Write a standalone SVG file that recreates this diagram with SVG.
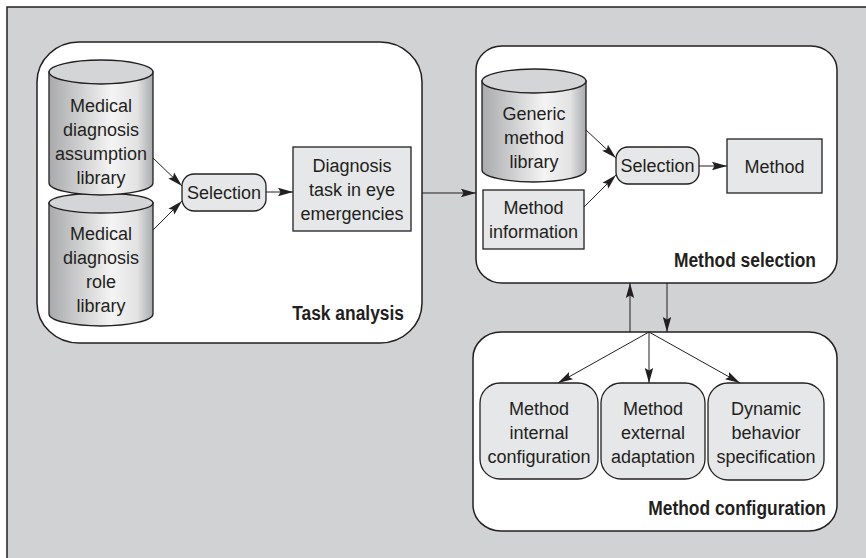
<svg xmlns="http://www.w3.org/2000/svg" width="866" height="558" viewBox="0 0 866 558">
<defs>
<linearGradient id="cyl" x1="0" y1="0" x2="1" y2="0">
<stop offset="0" stop-color="#a9aaac"/>
<stop offset="0.6" stop-color="#f4f4f4"/>
<stop offset="0.85" stop-color="#e2e2e3"/>
<stop offset="1" stop-color="#a9aaac"/>
</linearGradient>
<marker id="ah" markerUnits="userSpaceOnUse" markerWidth="16" markerHeight="10" refX="15" refY="5" orient="auto">
<path d="M0,0.8 L15,5 L0,9.2 L2.5,5 Z" fill="#231f20"/>
</marker>
</defs>
<style>
.frame{fill:#d1d2d4;stroke:#231f20;stroke-width:1.5}
.panel{fill:#ffffff;stroke:#231f20;stroke-width:1.5}
.box{fill:#e6e7e8;stroke:#231f20;stroke-width:1.3}
.cylb{fill:url(#cyl);stroke:#231f20;stroke-width:1.3}
.cylt{fill:#d4d5d7;stroke:#231f20;stroke-width:1.3}
.t{font-family:"Liberation Sans",Arial,sans-serif;font-size:18px;fill:#231f20;text-anchor:middle}
.lbl{font-family:"Liberation Sans",Arial,sans-serif;font-size:20px;font-weight:bold;fill:#231f20;text-anchor:end}
.c{fill:none;stroke:#231f20;stroke-width:1}
</style>
<rect class="frame" x="7" y="7" width="900" height="600"/>

<g id="task-analysis">
<rect class="panel" x="37" y="42" width="385" height="301" rx="42" ry="40"/>
<text class="lbl" transform="scale(0.87,1)" x="464.4" y="320">Task analysis</text>
</g>
<g id="role-library">
<path class="cylb" d="M49,203 L49,314 A52,12 0 0 0 153,314 L153,203 Z"/>
<ellipse class="cylt" cx="101" cy="203" rx="52" ry="10"/>
<text class="t" x="101" y="240">Medical</text>
<text class="t" x="101" y="264">diagnosis</text>
<text class="t" x="101" y="288">role</text>
<text class="t" x="101" y="312">library</text>
</g>
<g id="assumption-library">
<path class="cylb" d="M49,72 L49,183 A52,12 0 0 0 153,183 L153,72 Z"/>
<ellipse class="cylt" cx="101" cy="72" rx="52" ry="12"/>
<text class="t" x="101" y="112">Medical</text>
<text class="t" x="101" y="136">diagnosis</text>
<text class="t" x="101" y="160">assumption</text>
<text class="t" x="101" y="184">library</text>
</g>
<g id="selection-1">
<rect class="box" x="182" y="174" width="84" height="37" rx="12"/>
<text class="t" x="224" y="199">Selection</text>
</g>
<g id="diagnosis-task">
<rect class="box" x="293" y="147" width="118" height="84"/>
<text class="t" x="352" y="172">Diagnosis</text>
<text class="t" x="352" y="196">task in eye</text>
<text class="t" x="352" y="220">emergencies</text>
</g>

<g id="method-selection">
<rect class="panel" x="476" y="46" width="361" height="237" rx="26" ry="24"/>
<text class="lbl" transform="scale(0.87,1)" x="937.9" y="267">Method selection</text>
</g>
<g id="generic-library">
<path class="cylb" d="M482,81 L482,170 A52,12 0 0 0 586,170 L586,81 Z"/>
<ellipse class="cylt" cx="534" cy="81" rx="52" ry="12"/>
<text class="t" x="534" y="120">Generic</text>
<text class="t" x="534" y="144">method</text>
<text class="t" x="534" y="168">library</text>
</g>
<g id="method-information">
<rect class="box" x="483" y="190" width="101" height="59"/>
<text class="t" x="533.5" y="214">Method</text>
<text class="t" x="533.5" y="238">information</text>
</g>
<g id="selection-2">
<rect class="box" x="616" y="147" width="83" height="37" rx="12"/>
<text class="t" x="657.5" y="172">Selection</text>
</g>
<g id="method">
<rect class="box" x="727" y="139" width="95" height="54"/>
<text class="t" x="774.5" y="173">Method</text>
</g>

<g id="method-configuration">
<rect class="panel" x="473" y="332" width="364" height="199" rx="28" ry="26"/>
<text class="lbl" transform="scale(0.87,1)" x="949.4" y="515">Method configuration</text>
</g>
<g id="internal-configuration">
<rect class="box" x="480" y="383" width="118" height="96" rx="20"/>
<text class="t" x="539" y="415">Method</text>
<text class="t" x="539" y="439">internal</text>
<text class="t" x="539" y="463">configuration</text>
</g>
<g id="external-adaptation">
<rect class="box" x="601" y="383" width="104" height="96" rx="20"/>
<text class="t" x="653" y="415">Method</text>
<text class="t" x="653" y="439">external</text>
<text class="t" x="653" y="463">adaptation</text>
</g>
<g id="dynamic-behavior">
<rect class="box" x="708" y="383" width="116" height="97" rx="20"/>
<text class="t" x="766" y="415">Dynamic</text>
<text class="t" x="766" y="439">behavior</text>
<text class="t" x="766" y="463">specification</text>
</g>

<g id="connectors">
<line class="c" x1="153" y1="158" x2="182" y2="186" marker-end="url(#ah)"/>
<line class="c" x1="153" y1="230" x2="182" y2="201" marker-end="url(#ah)"/>
<line class="c" x1="266" y1="192" x2="293" y2="192" marker-end="url(#ah)"/>
<line class="c" x1="422" y1="193" x2="476" y2="193" marker-end="url(#ah)"/>
<line class="c" x1="586" y1="130" x2="616" y2="158" marker-end="url(#ah)"/>
<line class="c" x1="584" y1="207" x2="616" y2="175" marker-end="url(#ah)"/>
<line class="c" x1="699" y1="166" x2="727" y2="166" marker-end="url(#ah)"/>
<line class="c" x1="630" y1="332" x2="630" y2="283" marker-end="url(#ah)"/>
<line class="c" x1="667" y1="283" x2="667" y2="332" marker-end="url(#ah)"/>
<line class="c" x1="649" y1="332" x2="558" y2="383" marker-end="url(#ah)"/>
<line class="c" x1="649" y1="332" x2="649" y2="383" marker-end="url(#ah)"/>
<line class="c" x1="649" y1="332" x2="740" y2="383" marker-end="url(#ah)"/>
</g>
</svg>
